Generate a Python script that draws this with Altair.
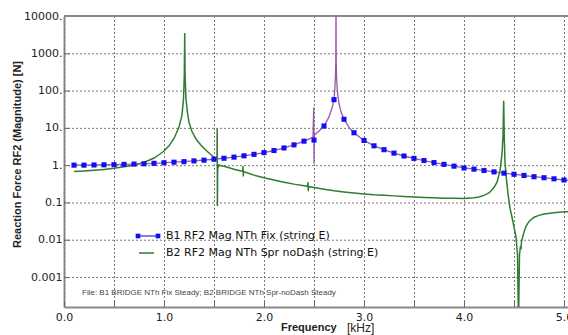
import altair as alt
import pandas as pd

# ---------------- data ----------------
x_ticks = [0.0, 0.5, 1.0, 1.5, 2.0, 2.5, 3.0, 3.5, 4.0, 4.5, 5.0]
y_ticks = [0.001, 0.01, 0.1, 1, 10, 100, 1000, 10000]

b1_name = "B1 RF2 Mag NTh Fix (string E)"
b2_name = "B2 RF2 Mag NTh Spr noDash (string E)"
file_note = "File: B1 BRIDGE NTh Fix Steady; B2 BRIDGE NTh Spr-noDash Steady"

# B1 markers (every 0.1 kHz)
b1_mark_freq = [0.1, 0.2, 0.3, 0.4, 0.5, 0.6, 0.7, 0.8, 0.9, 1.0,
                1.1, 1.2, 1.3, 1.4, 1.5, 1.6, 1.7, 1.8, 1.9, 2.0,
                2.1, 2.2, 2.3, 2.4, 2.5, 2.6, 2.7, 2.8, 2.9, 3.0,
                3.1, 3.2, 3.3, 3.4, 3.5, 3.6, 3.7, 3.8, 3.9, 4.0,
                4.1, 4.2, 4.3, 4.4, 4.5, 4.6, 4.7, 4.8, 4.9, 5.0]
b1_mark_val = [1.00, 1.00, 1.01, 1.02, 1.03, 1.05, 1.07, 1.09, 1.12, 1.16,
               1.20, 1.24, 1.30, 1.36, 1.44, 1.53, 1.64, 1.78, 1.95, 2.17,
               2.47, 2.89, 3.5, 4.4, 4.7, 11.2, 57, 17, 7.4, 4.6,
               3.3, 2.6, 2.1, 1.76, 1.52, 1.33, 1.17, 1.05, 0.94, 0.84,
               0.78, 0.72, 0.66, 0.61, 0.57, 0.53, 0.49, 0.46, 0.43, 0.40]

# B1 continuous response line
b1_line_freq = [0.1, 0.3, 0.5, 0.7, 0.9, 1.1, 1.3, 1.5, 1.7, 1.9, 2.0, 2.1, 2.2, 2.3, 2.4,
                2.45, 2.49, 2.497, 2.5, 2.503, 2.55, 2.6, 2.65, 2.68, 2.7, 2.71, 2.715,
                2.718, 2.72, 2.722, 2.725, 2.73, 2.74, 2.75, 2.77, 2.8, 2.85, 2.9, 3.0,
                3.1, 3.2, 3.3, 3.4, 3.5, 3.6, 3.7, 3.8, 3.9, 4.0, 4.1, 4.2, 4.3, 4.4,
                4.5, 4.6, 4.615, 4.617, 4.62, 4.7, 4.8, 4.9, 5.0, 5.04]
b1_line_val = [1.00, 1.01, 1.03, 1.07, 1.12, 1.20, 1.30, 1.44, 1.64, 1.95, 2.17, 2.47, 2.89, 3.5, 4.4,
               5.0, 5.7, 35, 1.1, 6.3, 8.2, 11.2, 19.7, 34, 57, 135, 270,
               680, 30000, 680, 270, 135, 68, 45, 27, 17, 10.3, 7.4, 4.6,
               3.3, 2.6, 2.1, 1.76, 1.52, 1.33, 1.17, 1.05, 0.94, 0.84, 0.78, 0.72, 0.66, 0.61,
               0.57, 0.53, 0.53, 0.48, 0.52, 0.49, 0.46, 0.43, 0.40, 0.39]

# B2 continuous response line
b2_freq = [0.1, 0.2, 0.3, 0.4, 0.5, 0.6, 0.7, 0.8, 0.85, 0.9, 0.95, 1.0, 1.05, 1.1, 1.15,
           1.18, 1.195, 1.203, 1.207, 1.211, 1.22, 1.235, 1.25, 1.28, 1.32, 1.37, 1.42,
           1.47, 1.52, 1.53, 1.532, 1.534, 1.537, 1.545, 1.55, 1.6, 1.65, 1.7, 1.75,
           1.788, 1.79, 1.793, 1.796, 1.85, 1.9, 2.0, 2.1, 2.2, 2.3, 2.4, 2.437, 2.44,
           2.443, 2.446, 2.5, 2.6, 2.7, 2.8, 2.9, 3.0, 3.1, 3.2, 3.3, 3.4, 3.5, 3.6,
           3.7, 3.8, 3.9, 4.0, 4.1, 4.15, 4.2, 4.25, 4.3, 4.33, 4.36, 4.38, 4.39, 4.397,
           4.403, 4.41, 4.42, 4.44, 4.46, 4.48, 4.5, 4.52, 4.535, 4.545, 4.555, 4.565,
           4.57, 4.575, 4.6, 4.62, 4.65, 4.7, 4.75, 4.8, 4.9, 5.0, 5.04]
b2_val = [0.68, 0.70, 0.73, 0.77, 0.82, 0.90, 1.0, 1.2, 1.35, 1.55, 1.9, 2.4, 3.3, 5.2, 10.5,
          22, 60, 250, 3500, 250, 60, 25, 14, 8, 5, 3.4, 2.5,
          1.9, 1.5, 1.45, 9.5, 0.08, 1.05, 0.92, 1.0, 0.93, 0.85, 0.78, 0.72,
          0.68, 0.95, 0.5, 0.67, 0.6, 0.54, 0.46, 0.40, 0.35, 0.31, 0.28, 0.27, 0.35,
          0.2, 0.265, 0.25, 0.225, 0.205, 0.19, 0.178, 0.168, 0.16, 0.155, 0.15, 0.145, 0.14, 0.136,
          0.133, 0.13, 0.129, 0.128, 0.133, 0.14, 0.155, 0.18, 0.25, 0.35, 0.7, 2.0, 6, 53,
          5, 1.2, 0.55, 0.17, 0.07, 0.04, 0.022, 0.012, 0.004, 0.00005, 0.004, 0.0068,
          0.0055, 0.009, 0.016, 0.023, 0.031, 0.04, 0.045, 0.049, 0.053, 0.056, 0.056]

# ---------------- styling ----------------
GREEN = "#2f7d32"
BLUE = "#1010f0"
PURPLE = "#9a58a8"
GRID = "#7a7a7a"
AXIS = "#8a8a8a"

W, H = 504, 291

xscale = alt.Scale(domain=[0, 5.04], nice=False, zero=False)
yscale = alt.Scale(type="log", domain=[0.000157, 10000], nice=False)

xaxis = alt.Axis(values=x_ticks, title=None, grid=False, ticks=False,
                 domainColor=AXIS, domainWidth=2,
                 labelExpr="datum.value % 1 == 0 ? format(datum.value, '.1f') : ''",
                 labelFont="DejaVu Sans", labelFontSize=11, labelColor="#222",
                 labelPadding=4, labelFlush=False)
yaxis = alt.Axis(values=y_ticks, title="Reaction Force RF2 (Magnitude)  [N]", grid=False,
                 ticks=False, domainColor=AXIS, domainWidth=2,
                 labelExpr="datum.value >= 1 ? format(datum.value, 'd') + '.' : format(datum.value, '~g')",
                 labelFont="DejaVu Sans", labelFontSize=11, labelColor="#222", labelPadding=2,
                 titleFont="Liberation Sans", titleFontSize=11, titleFontWeight="bold",
                 titleColor="#222", titleAngle=270, titleX=-53, titleY=138,
                 titleBaseline="top", titleAlign="center")


def X(field):
    return alt.X(field, type="quantitative", scale=xscale, axis=xaxis)


def Y(field):
    return alt.Y(field, type="quantitative", scale=yscale, axis=yaxis)


def one(label):
    return pd.DataFrame({"t": [label]})


b1_mark_df = pd.DataFrame({"f": b1_mark_freq, "v": b1_mark_val})
b1_line_df = pd.DataFrame({"f": b1_line_freq, "v": b1_line_val})
b2_df = pd.DataFrame({"f": b2_freq, "v": b2_val})
xg_df = pd.DataFrame({"gx": x_ticks})
yg_df = pd.DataFrame({"gy": y_ticks})

# dotted grid (drawn first, under the data)
x_grid = alt.Chart(xg_df).mark_rule(color=GRID, strokeWidth=1, strokeDash=[2, 2],
                                    xOffset=0.5).encode(
    x=alt.X("gx:Q", scale=xscale), y=alt.value(0), y2=alt.value(H))
y_grid = alt.Chart(yg_df).mark_rule(color=GRID, strokeWidth=1, strokeDash=[2, 2],
                                    yOffset=0.5).encode(
    y=alt.Y("gy:Q", scale=yscale), x=alt.value(0), x2=alt.value(W))

# inward ticks
x_tick_rules = alt.Chart(xg_df).mark_rule(color="#666", strokeWidth=1, xOffset=0.5).encode(
    x=alt.X("gx:Q", scale=xscale), y=alt.value(H), y2=alt.value(H - 6))
y_tick_rules = alt.Chart(yg_df).mark_rule(color="#666", strokeWidth=1, yOffset=0.5).encode(
    y=alt.Y("gy:Q", scale=yscale), x=alt.value(0), x2=alt.value(6))
top_border = alt.Chart(one("top")).mark_rule(color=AXIS, strokeWidth=2).encode(
    x=alt.value(0), x2=alt.value(W), y=alt.value(0))

green_line = alt.Chart(b2_df).mark_line(color=GREEN, strokeWidth=1.5, clip=True).encode(
    x=X("f"), y=Y("v"), order="f:Q")
purple_line = alt.Chart(b1_line_df).mark_line(color=PURPLE, strokeWidth=1.3, clip=True).encode(
    x=X("f"), y=Y("v"), order="f:Q")
markers = alt.Chart(b1_mark_df).mark_square(color=BLUE, size=26, opacity=1).encode(
    x=X("f"), y=Y("v"))

# legend (manual)
leg_b1_line = alt.Chart(one("l1")).mark_rule(color="#4a3ad0", strokeWidth=1.3).encode(
    x=alt.value(74), x2=alt.value(94), y=alt.value(220))
leg_b1_p1 = alt.Chart(one("p1")).mark_square(color=BLUE, size=22, opacity=1).encode(
    x=alt.value(74), y=alt.value(220))
leg_b1_p2 = alt.Chart(one("p2")).mark_square(color=BLUE, size=22, opacity=1).encode(
    x=alt.value(94), y=alt.value(220))
leg_b2_line = alt.Chart(one("l2")).mark_rule(color=GREEN, strokeWidth=1.5).encode(
    x=alt.value(75), x2=alt.value(90), y=alt.value(237))
leg_t1 = alt.Chart(one(b1_name)).mark_text(
    align="left", baseline="middle", font="DejaVu Sans", fontSize=11, color="#111").encode(
    x=alt.value(102), y=alt.value(220), text="t:N")
leg_t2 = alt.Chart(one(b2_name)).mark_text(
    align="left", baseline="middle", font="DejaVu Sans", fontSize=11, color="#111").encode(
    x=alt.value(102), y=alt.value(237), text="t:N")

note = alt.Chart(one(file_note)).mark_text(
    align="left", baseline="middle", font="Liberation Sans", fontSize=8, color="#444").encode(
    x=alt.value(18), y=alt.value(277), text="t:N")

xt1 = alt.Chart(one("Frequency")).mark_text(
    align="left", baseline="middle", font="Liberation Sans", fontSize=11, fontWeight="bold",
    color="#222").encode(x=alt.value(217), y=alt.value(312), text="t:N")
xt2 = alt.Chart(one("[kHz]")).mark_text(
    align="left", baseline="middle", font="Liberation Sans", fontSize=12, color="#222").encode(
    x=alt.value(283), y=alt.value(312), text="t:N")

chart = alt.layer(
    x_grid, y_grid, x_tick_rules, y_tick_rules, top_border,
    green_line, purple_line, markers,
    leg_b1_line, leg_b1_p1, leg_b1_p2, leg_b2_line, leg_t1, leg_t2, note, xt1, xt2,
).properties(
    width=W, height=H,
    padding={"left": 64, "top": 16, "right": 0, "bottom": 28},
    autosize=alt.AutoSizeParams(type="none"),
    background="white",
).configure_view(stroke=None)

chart.save("out.html", embed_options={"renderer": "svg", "actions": False})
